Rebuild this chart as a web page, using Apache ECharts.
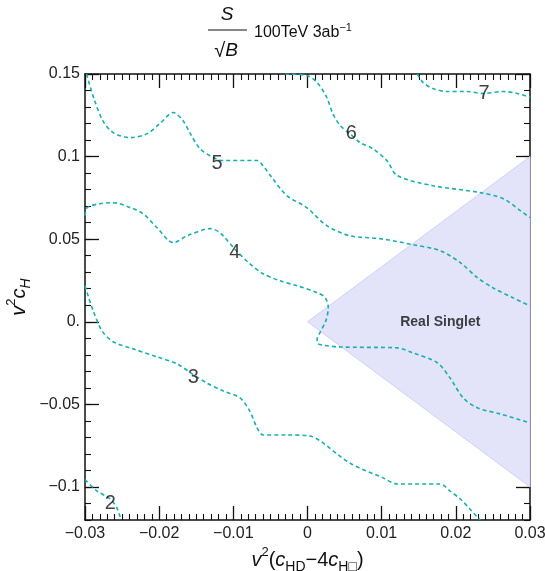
<!DOCTYPE html>
<html><head><meta charset="utf-8">
<script src="https://cdn.jsdelivr.net/npm/echarts@6/dist/echarts.min.js"></script>
<style>html,body{margin:0;padding:0;background:#fff}#c{width:545px;height:571px}</style>
</head><body><div id="c"></div>
<script>
// ---- tick labels ----
const xTicks = [-0.03, -0.02, -0.01, 0, 0.01, 0.02, 0.03];
const xTickLabels = ['−0.03', '−0.02', '−0.01', '0', '0.01', '0.02', '0.03'];
const yTicks = [-0.1, -0.05, 0, 0.05, 0.1, 0.15];
const yTickLabels = ['−0.1', '−0.05', '0.', '0.05', '0.1', '0.15'];

// ---- contour lines (x = v^2(cHD-4cH□), y = v^2 cH) ----
const contour2 = [[-0.03,-0.0955],[-0.0284,-0.1024],[-0.0266,-0.1073],[-0.0257,-0.1127],[-0.0253,-0.1176],[-0.0251,-0.12]];
const contour3 = [[-0.03,0.0218],[-0.0289,0.0067],[-0.0277,-0.0055],[-0.0262,-0.0121],[-0.0235,-0.0164],[-0.0203,-0.0212],[-0.0176,-0.0255],[-0.0154,-0.0320],[-0.0136,-0.0370],[-0.0114,-0.0418],[-0.0091,-0.0461],[-0.0078,-0.0539],[-0.0068,-0.0642],[-0.0060,-0.0685],[-0.0028,-0.0685],[0.0003,-0.0691],[0.0017,-0.0721],[0.0057,-0.0855],[0.0102,-0.0945],[0.0121,-0.0982],[0.0179,-0.0982],[0.0192,-0.1024],[0.0206,-0.1073],[0.0219,-0.1133],[0.0230,-0.1188],[0.0233,-0.12]];
const contour4 = [[-0.03,0.0642],[-0.0297,0.0691],[-0.0280,0.0715],[-0.0262,0.0721],[-0.0239,0.0691],[-0.0222,0.0655],[-0.0203,0.0570],[-0.0181,0.0479],[-0.0162,0.0521],[-0.0131,0.0564],[-0.0118,0.0539],[-0.0098,0.0440],[-0.0078,0.0352],[-0.0060,0.0291],[-0.0037,0.0248],[-0.0014,0.0218],[0.0013,0.0176],[0.0024,0.0145],[0.0028,0.0085],[0.0025,0.0010],[0.0016,-0.0073],[0.0013,-0.0103],[0.0014,-0.0133],[0.0044,-0.0152],[0.0121,-0.0158],[0.0142,-0.0188],[0.0175,-0.0248],[0.0192,-0.0339],[0.0210,-0.0461],[0.0229,-0.0521],[0.0260,-0.0558],[0.03,-0.0612]];
const contour5 = [[-0.0298,0.15],[-0.0287,0.1339],[-0.0276,0.1218],[-0.0262,0.1145],[-0.0239,0.1115],[-0.0216,0.1139],[-0.0199,0.1200],[-0.0181,0.1267],[-0.0168,0.1218],[-0.0158,0.1139],[-0.0145,0.1048],[-0.0127,0.0994],[-0.0114,0.0976],[-0.0068,0.0976],[-0.0060,0.0945],[-0.0048,0.0873],[-0.0028,0.0764],[-0.0001,0.0691],[0.0026,0.0582],[0.0057,0.0521],[0.0098,0.0503],[0.0142,0.0467],[0.0179,0.0430],[0.0206,0.0358],[0.0229,0.0267],[0.0250,0.0206],[0.0277,0.0145],[0.03,0.0097]];
const contour6 = [[-0.0030,0.15],[-0.0001,0.1491],[0.0013,0.1448],[0.0026,0.1358],[0.0034,0.1261],[0.0044,0.1188],[0.0057,0.1139],[0.0071,0.1085],[0.0088,0.1048],[0.0107,0.0976],[0.0121,0.0885],[0.0169,0.0824],[0.0233,0.0782],[0.0264,0.0745],[0.0287,0.0673],[0.03,0.0630]];
const contour7 = [[0.0148,0.15],[0.0156,0.1448],[0.0169,0.1412],[0.0188,0.1394],[0.0215,0.1394],[0.0237,0.1382],[0.0264,0.1394],[0.0283,0.1382],[0.03,0.1358]];
const contourNames = ['2', '3', '4', '5', '6', '7'];
const contourLabelPos = [[-0.0266,-0.1097],[-0.0154,-0.0339],[-0.0098,0.0418],[-0.0122,0.0958],[0.0059,0.1139],[0.0238,0.1382]];

// ---- shaded region ----
const singletRegion = [[0,0],[0.03,0.1],[0.03,-0.1]];
const singletLabel = ['Real Singlet'];
const singletLabelPos = [[0.0179,0.0]];

const FONT = '"Liberation Sans", Arial, sans-serif';
const TEAL = '#17b0b0';
const contours = [contour2, contour3, contour4, contour5, contour6, contour7];

function lab(v, ticks, labels){
  for (let i=0;i<ticks.length;i++) if (Math.abs(v-ticks[i])<1e-9) return labels[i];
  return '';
}

const chart = echarts.init(document.getElementById('c'), null, {renderer:'canvas'});
const axisLine = {show:true, onZero:false, lineStyle:{color:'#111', width:1.5}};
const xBase = {type:'value', min:-0.03, max:0.03, interval:0.01, splitLine:{show:false},
  axisLine: axisLine, axisTick:{show:true, inside:true, length:14, lineStyle:{color:'#111', width:1.3}},
  minorTick:{show:true, splitNumber:10, length:6, lineStyle:{color:'#111', width:1.1}}};
const yMinor = {type:'value', min:-0.12, max:0.15, interval:0.01, splitLine:{show:false},
  axisLine: axisLine, axisTick:{show:true, inside:true, length:6, lineStyle:{color:'#111', width:1.1}},
  axisLabel:{show:false}};
const yMajor = {type:'value', min:-0.12, max:0.15, splitLine:{show:false},
  axisLine:{show:false, onZero:false},
  axisTick:{show:true, inside:true, length:14, customValues:yTicks, lineStyle:{color:'#111', width:1.3}}};

const series = [];
series.push({
  type:'custom', xAxisIndex:0, yAxisIndex:0, z:1, silent:true,
  data: singletRegion,
  renderItem: function(params, api){
    if (params.dataIndex !== 0) return null;
    const pts = singletRegion.map(p => api.coord(p));
    return {type:'polygon', shape:{points:pts}, style:{fill:'#e3e3fa', stroke:'#d2d2f4', lineWidth:1}};
  }
});
contours.forEach((c, i) => {
  series.push({type:'line', name:'c'+contourNames[i], data:c, smooth:0.3, symbol:'none', z:3,
    xAxisIndex:0, yAxisIndex:0, clip:true,
    lineStyle:{color:TEAL, width:1.6, type:[4,3]}});
});
series.push({type:'scatter', symbolSize:0, z:5, xAxisIndex:0, yAxisIndex:0,
  data: contourLabelPos.map((p,i)=>({value:p, name:contourNames[i]})),
  label:{show:true, position:'inside', formatter:'{b}', fontSize:20, color:'#111', fontFamily:FONT}});
series.push({type:'scatter', symbolSize:0, z:5, xAxisIndex:0, yAxisIndex:0,
  data: singletLabelPos.map((p,i)=>({value:p, name:singletLabel[i]})),
  label:{show:true, position:'inside', formatter:'{b}', fontSize:14, fontWeight:'bold', color:'#111', fontFamily:FONT}});

const option = {
  animation:false,
  backgroundColor:'#fff',
  grid:{left:85, right:15, top:74, bottom:51, containLabel:false, outerBoundsMode:'none'},
  xAxis:[
    Object.assign({}, xBase, {position:'bottom',
      axisLabel:{show:true, margin:6, fontSize:16, color:'#222', fontFamily:FONT, formatter:v=>lab(v,xTicks,xTickLabels)},
      name:'{i|v}{sup|2}{n|(}{i|c}{sub|HD}{n|−4}{i|c}{sub|H□}{n|)}', nameLocation:'middle', nameGap:26, nameMoveOverlap:false,
      nameTextStyle:{fontFamily:FONT, color:'#111', rich:{
        i:{fontStyle:'italic', fontSize:20, fontFamily:FONT, lineHeight:28},
        n:{fontSize:20, fontFamily:FONT, lineHeight:28},
        sup:{fontSize:13, fontFamily:FONT, verticalAlign:'top', lineHeight:15},
        sub:{fontSize:14, fontFamily:FONT, verticalAlign:'bottom', lineHeight:15}}}}),
    Object.assign({}, xBase, {position:'top', axisLabel:{show:false}})
  ],
  yAxis:[
    Object.assign({}, yMinor, {position:'left',
      name:'{i|v}{sup|2}{i|c}{sub|H}', nameLocation:'middle', nameGap:52, nameRotate:90, nameMoveOverlap:false,
      nameTextStyle:{fontFamily:FONT, color:'#111', rich:{
        i:{fontStyle:'italic', fontSize:20, fontFamily:FONT, lineHeight:28},
        sup:{fontSize:13, fontFamily:FONT, verticalAlign:'top', lineHeight:15},
        sub:{fontSize:14, fontStyle:'italic', fontFamily:FONT, verticalAlign:'bottom', lineHeight:15}}}}),
    Object.assign({}, yMajor, {position:'left',
      axisLabel:{show:true, customValues:yTicks, margin:5, fontSize:16, color:'#222', fontFamily:FONT, formatter:v=>lab(v,yTicks,yTickLabels)}}),
    Object.assign({}, yMinor, {position:'right'}),
    Object.assign({}, yMajor, {position:'right', axisLabel:{show:false}})
  ],
  graphic:[
    {type:'text', x:227, y:15, style:{text:'S', font:'italic 19px '+FONT, fill:'#111', textAlign:'center', textVerticalAlign:'middle'}},
    {type:'line', shape:{x1:208, y1:30, x2:247, y2:30}, style:{stroke:'#111', lineWidth:1}},
    {type:'text', x:226, y:51, style:{text:'{r|√}{b|B}', fill:'#111', textAlign:'center', textVerticalAlign:'middle',
      rich:{r:{fontSize:20, fontFamily:FONT}, b:{fontSize:19, fontStyle:'italic', fontFamily:FONT}}}},
    {type:'text', x:254, y:33, style:{text:'{n|100TeV 3ab}{sup|−1}', fill:'#111', textAlign:'left', textVerticalAlign:'middle',
      rich:{n:{fontSize:16, fontFamily:FONT, lineHeight:22}, sup:{fontSize:11, fontFamily:FONT, verticalAlign:'top', lineHeight:12}}}}
  ],
  series: series
};
chart.setOption(option);
</script>
</body></html>
